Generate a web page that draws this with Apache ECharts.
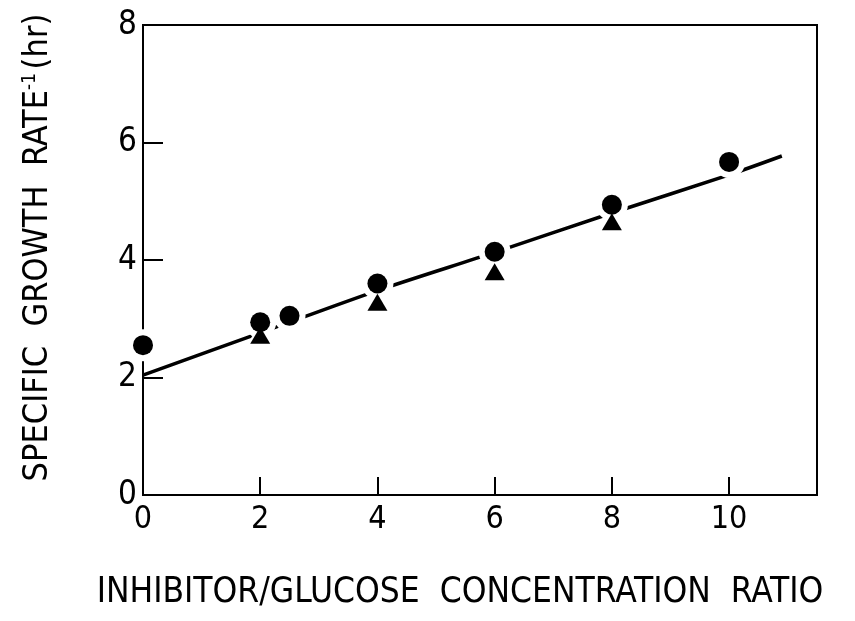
<!DOCTYPE html>
<html>
<head>
<meta charset="utf-8">
<script src="https://cdn.jsdelivr.net/npm/echarts@6/dist/echarts.min.js"></script>
<style>html,body{margin:0;padding:0;background:#fff;}#c{width:855px;height:621px;}</style>
</head>
<body>
<div id="c"></div>
<script>
// Data
var circleX = [0, 2, 2.5, 4, 6, 8, 10];
var circleY = [2.55, 2.94, 3.05, 3.6, 4.14, 4.94, 5.67];
var triangleX = [2, 4, 6, 8];
var triangleY = [2.72, 3.28, 3.8, 4.65];
var fitX = [0, 2, 4, 6, 8, 10, 10.9];
var fitY = [2.04, 2.76, 3.48, 4.13, 4.8, 5.45, 5.77];
var xTicks = [0, 2, 4, 6, 8, 10];
var yTicks = [0, 2, 4, 6, 8];
var xTitle = 'INHIBITOR/GLUCOSE  CONCENTRATION  RATIO';
var yTitleMain = 'SPECIFIC  GROWTH  RATE';

function pairs(xs, ys) { return xs.map(function (x, i) { return [x, ys[i]]; }); }

var FONT = "'Liberation Sans Narrow', 'DejaVu Sans Condensed', 'Liberation Sans', sans-serif";
var chart = echarts.init(document.getElementById('c'), null, {renderer: 'canvas'});
chart.setOption({
  backgroundColor: '#fff',
  animation: false,
  grid: {left: 143, right: 38, top: 25, bottom: 126, show: true, borderColor: '#000', borderWidth: 2, backgroundColor: 'transparent'},
  xAxis: {
    type: 'value', min: 0, max: 11.5, interval: 2,
    axisLine: {show: true, lineStyle: {color: '#000', width: 2}},
    axisTick: {show: true, inside: true, length: 18, lineStyle: {color: '#000', width: 2},
      customValues: xTicks},
    axisLabel: {color: '#000', fontSize: 32, fontFamily: FONT, margin: 9, customValues: xTicks},
    splitLine: {show: false},
    name: xTitle, nameLocation: 'middle', nameGap: 80,
    nameTextStyle: {color: '#000', fontSize: 35, fontFamily: FONT, padding: [0, 40, 0, 0]}
  },
  yAxis: {
    type: 'value', min: 0, max: 8, interval: 2,
    axisLine: {show: true, lineStyle: {color: '#000', width: 2}},
    axisTick: {show: true, inside: true, length: 20, lineStyle: {color: '#000', width: 2}},
    axisLabel: {color: '#000', fontSize: 33, fontFamily: FONT, margin: 6,
      formatter: function (v) { return yTicks.indexOf(v) >= 0 ? String(v) : ''; }},
    splitLine: {show: false},
    name: '{m|' + yTitleMain + '}{s|-1} {m|(hr)}', nameLocation: 'middle', nameGap: 88,
    nameTextStyle: {color: '#000', fontFamily: FONT, padding: [0, 0, 0, 25],
      rich: {
        m: {fontSize: 34, fontFamily: FONT, color: '#000'},
        s: {fontSize: 19, fontFamily: FONT, color: '#000', verticalAlign: 'top', padding: [0, 0, 14, 0]}
      }}
  },
  series: [
    {type: 'line', data: pairs(fitX, fitY), smooth: 0.3, showSymbol: false, symbol: 'none',
      lineStyle: {color: '#000', width: 3.5}, z: 1},
    {type: 'scatter', data: pairs(triangleX, triangleY), symbol: 'triangle', symbolSize: [30, 26],
      itemStyle: {color: '#fff', opacity: 1}, z: 2, silent: true},
    {type: 'scatter', data: pairs(circleX, circleY), symbol: 'circle', symbolSize: 32,
      itemStyle: {color: '#fff', opacity: 1}, z: 2, silent: true},
    {type: 'scatter', data: pairs(triangleX, triangleY), symbol: 'triangle', symbolSize: [20, 17],
      itemStyle: {color: '#000', opacity: 1}, z: 3},
    {type: 'scatter', data: pairs(circleX, circleY), symbol: 'circle', symbolSize: 20,
      itemStyle: {color: '#000', opacity: 1}, z: 4}
  ]
});
</script>
</body>
</html>
